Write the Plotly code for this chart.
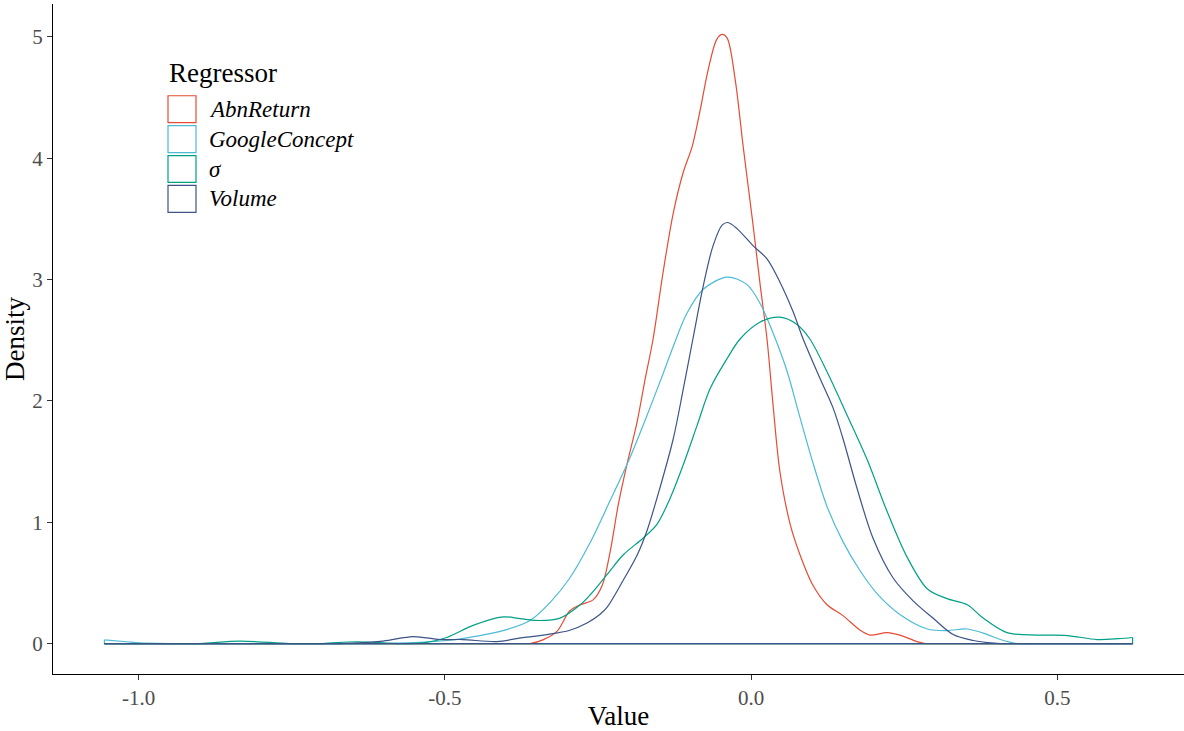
import plotly.graph_objects as go

# ---------------- data ----------------
series_names = ["AbnReturn", "GoogleConcept", "σ", "Volume"]
series_colors = ["#E64B35", "#4DBBD5", "#00A087", "#3C5488"]

x_start = -1.056
x_end = 0.623

abn_x = [-1.056, -0.8, -0.6, -0.45, -0.38, -0.361, -0.34, -0.317, -0.296, -0.279, -0.258, -0.243, -0.230,
         -0.217, -0.203, -0.186, -0.173, -0.160, -0.144, -0.127, -0.111, -0.096, -0.083, -0.070,
         -0.056, -0.047, -0.039, -0.026, -0.013, 0.002, 0.015, 0.026, 0.036, 0.047, 0.064, 0.080,
         0.101, 0.124, 0.150, 0.178, 0.194, 0.222, 0.243, 0.271, 0.285, 0.32, 0.4, 0.5, 0.623]
abn_y = [0, 0, 0, 0, 0, 0.0, 0.03, 0.10, 0.27, 0.32, 0.36, 0.48, 0.76,
         1.14, 1.47, 1.83, 2.18, 2.51, 3.05, 3.55, 3.88, 4.10, 4.40, 4.73,
         4.98, 5.02, 4.99, 4.65, 4.10, 3.50, 2.95, 2.51, 1.96, 1.42, 0.98, 0.73,
         0.48, 0.32, 0.23, 0.11, 0.07, 0.09, 0.07, 0.016, 0.0, 0, 0, 0, 0]

goo_x = [-1.056, -1.02, -0.998, -0.95, -0.8, -0.65, -0.606, -0.55, -0.497, -0.443, -0.399, -0.361, -0.328,
         -0.296, -0.263, -0.230, -0.198, -0.170, -0.144, -0.124, -0.105, -0.078, -0.039,
         -0.007, 0.015, 0.039, 0.059, 0.080, 0.101, 0.124, 0.150, 0.178, 0.206, 0.243,
         0.288, 0.320, 0.353, 0.386, 0.407, 0.435, 0.47, 0.55, 0.623]
goo_y = [0.03, 0.015, 0.005, 0.0, 0.0, 0.0, 0.0, 0.008, 0.025, 0.066, 0.115, 0.19, 0.34,
         0.54, 0.83, 1.18, 1.53, 1.88, 2.22, 2.49, 2.72, 2.92, 3.02,
         2.96, 2.80, 2.52, 2.24, 1.86, 1.49, 1.13, 0.84, 0.60, 0.41, 0.24,
         0.12, 0.107, 0.12, 0.074, 0.033, 0.0, 0, 0, 0]

sig_x = [-1.056, -0.95, -0.900, -0.835, -0.753, -0.70, -0.644, -0.574, -0.53, -0.497, -0.454, -0.405, -0.377,
         -0.345, -0.312, -0.279, -0.263, -0.235, -0.209, -0.176, -0.154, -0.132, -0.111,
         -0.088, -0.067, -0.039, -0.018, 0.015, 0.047, 0.075, 0.096, 0.124, 0.157, 0.190,
         0.222, 0.255, 0.288, 0.320, 0.353, 0.379, 0.418, 0.467, 0.516, 0.565, 0.600, 0.623]
sig_y = [0.0, 0.0, 0.0, 0.02, 0.0, 0.0, 0.015, 0.0, 0.01, 0.05, 0.15, 0.22, 0.205,
         0.19, 0.21, 0.32, 0.40, 0.57, 0.73, 0.87, 0.98, 1.20, 1.47,
         1.80, 2.10, 2.35, 2.51, 2.65, 2.69, 2.63, 2.51, 2.24, 1.88, 1.51,
         1.09, 0.71, 0.45, 0.37, 0.32, 0.21, 0.09, 0.07, 0.066, 0.033, 0.04, 0.05]

vol_x = [-1.056, -0.8, -0.672, -0.601, -0.552, -0.508, -0.471, -0.415, -0.373, -0.333, -0.296,
         -0.268, -0.247, -0.235, -0.209, -0.186, -0.170, -0.149, -0.127, -0.111, -0.095,
         -0.078, -0.062, -0.047, -0.038, -0.023, 0.003, 0.026, 0.047, 0.069, 0.085, 0.113,
         0.134, 0.150, 0.173, 0.199, 0.232, 0.265, 0.297, 0.330, 0.363, 0.386, 0.407, 0.45, 0.55, 0.623]
vol_y = [0.0, 0.0, 0.0, 0.02, 0.057, 0.033, 0.033, 0.016, 0.049, 0.074, 0.11,
         0.17, 0.24, 0.30, 0.52, 0.73, 0.93, 1.28, 1.69, 2.09, 2.51,
         2.95, 3.28, 3.45, 3.47, 3.42, 3.28, 3.17, 2.98, 2.73, 2.51, 2.18,
         1.94, 1.69, 1.28, 0.87, 0.54, 0.35, 0.21, 0.074, 0.025, 0.008, 0.0, 0, 0, 0]

series_x = [abn_x, goo_x, sig_x, vol_x]
series_y = [abn_y, goo_y, sig_y, vol_y]

x_tick_vals = [-1.0, -0.5, 0.0, 0.5]
x_tick_text = ["-1.0", "-0.5", "0.0", "0.5"]
y_tick_vals = [0, 1, 2, 3, 4, 5]
y_tick_text = ["0", "1", "2", "3", "4", "5"]

# ---------------- figure ----------------
W, H = 1184, 731
ML, MR, MT, MB = 53, 0, 4, 55

fig = go.Figure()
for name, col, xs, ys in zip(series_names, series_colors, series_x, series_y):
    fig.add_trace(go.Scatter(x=xs, y=ys, mode="lines", name=name,
                             line=dict(color=col, width=1.2, shape="spline", smoothing=0.9),
                             showlegend=False, hoverinfo="skip"))
    fig.add_trace(go.Scatter(x=[xs[-1], xs[-1], xs[0], xs[0]], y=[ys[-1], 0, 0, ys[0]],
                             mode="lines", line=dict(color=col, width=1.2, shape="linear"),
                             showlegend=False, hoverinfo="skip"))

all_y = [v for ys in series_y for v in ys]
ymax = max(all_y)
ypad = 0.05 * ymax
xpad = 0.05 * (x_end - x_start)

font_family = "Liberation Serif, Times New Roman, serif"

fig.update_layout(
    width=W, height=H,
    margin=dict(l=ML, r=MR, t=MT, b=MB),
    paper_bgcolor="white", plot_bgcolor="white",
    font=dict(family=font_family),
    xaxis=dict(range=[x_start - xpad, x_end + xpad], showgrid=False, zeroline=False,
               showline=True, linecolor="black", linewidth=1,
               ticks="outside", ticklen=5, tickcolor="#333333", tickwidth=1,
               tickvals=x_tick_vals, ticktext=x_tick_text,
               tickfont=dict(size=21, color="#4D4D4D", family=font_family),
               title=dict(text="Value", font=dict(size=27, color="black", family=font_family),
                          standoff=2)),
    yaxis=dict(range=[-ypad, ymax + ypad], showgrid=False, zeroline=False,
               showline=True, linecolor="black", linewidth=1,
               ticks="outside", ticklen=5, tickcolor="#333333", tickwidth=1,
               tickvals=y_tick_vals, ticktext=y_tick_text,
               tickfont=dict(size=21, color="#4D4D4D", family=font_family),
               title=dict(text="Density", font=dict(size=27, color="black", family=font_family),
                          standoff=4)),
    showlegend=False,
)

# ---------------- manual legend (ggplot-style outlined keys) ----------------
pw, ph = W - ML - MR, H - MT - MB
def px2paper(px, py):
    return (px - ML) / pw, (H - MB - py) / ph

tx, ty = px2paper(167, 73)
fig.add_annotation(x=tx, y=ty, xref="paper", yref="paper", text="Regressor",
                   showarrow=False, xanchor="left", yanchor="middle",
                   font=dict(size=27, color="black", family=font_family))
for i, (name, col) in enumerate(zip(series_names, series_colors)):
    top = 96 + 30 * i
    x0, y0 = px2paper(168, top + 27)
    x1, y1 = px2paper(196, top)
    fig.add_shape(type="rect", xref="paper", yref="paper", x0=x0, y0=y0, x1=x1, y1=y1,
                  line=dict(color=col, width=1.2), fillcolor="white")
    lx, ly = px2paper(207, top + 13.5)
    fig.add_annotation(x=lx, y=ly, xref="paper", yref="paper", text="<i>" + name + "</i>",
                       showarrow=False, xanchor="left", yanchor="middle",
                       font=dict(size=23, color="black", family=font_family))

fig.write_html("out.html")
